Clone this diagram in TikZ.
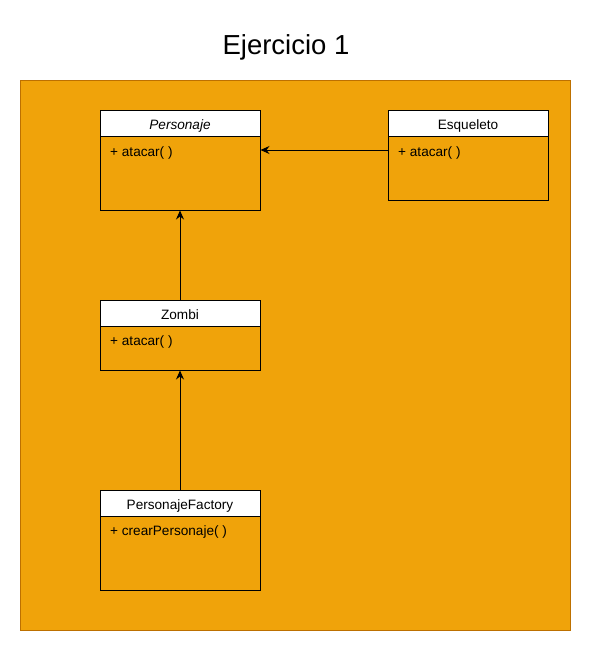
\documentclass[tikz,border=0pt]{standalone}
\usepackage{fontspec}
\setmainfont{Liberation Sans}
\usetikzlibrary{arrows.meta}
\definecolor{orfill}{HTML}{F0A30A}
\definecolor{orline}{HTML}{BD7000}
\tikzset{
  hdr/.style={draw=black, fill=white, line width=1pt, minimum width=160pt, inner sep=0pt, text height=12.5pt, text depth=0pt, font=\fontsize{13.6pt}{16pt}\selectfont},
  body/.style={draw=black, line width=1pt, minimum width=160pt, inner sep=0pt},
  memb/.style={anchor=west, inner sep=0pt, font=\fontsize{13.6pt}{16pt}\selectfont},
  inh/.style={-{Stealth[length=9pt,width=8pt,inset=3pt]}, line width=1pt}
}
\begin{document}
\begin{tikzpicture}[x=1pt,y=-1pt]
\useasboundingbox (0,0) rectangle (591,651);
\node[font=\fontsize{27.5pt}{32pt}\selectfont] (title) at (286,47) {Ejercicio 1};
\node[draw=orline, fill=orfill, line width=1pt, minimum width=550pt, minimum height=550pt, inner sep=0pt] (bg) at (295,355) {};
% Personaje
\node[body, minimum height=74pt] (pb) at (180,173) {};
\node[hdr, minimum height=26pt] (ph) at (180,123) {\itshape Personaje};
\node[memb] (pm) at (110,153) {+ atacar( )};
% Esqueleto
\node[body, minimum height=64pt] (eb) at (468,168) {};
\node[hdr, minimum height=26pt] (eh) at (468,123) {Esqueleto};
\node[memb] (em) at (398,153) {+ atacar( )};
% Zombi
\node[body, minimum height=44pt] (zb) at (180,348) {};
\node[hdr, minimum height=26pt] (zh) at (180,313) {Zombi};
\node[memb] (zm) at (110,342) {+ atacar( )};
% PersonajeFactory
\node[body, minimum height=74pt] (fb) at (180,553) {};
\node[hdr, minimum height=26pt] (fh) at (180,503) {PersonajeFactory};
\node[memb] (fm) at (110,532) {+ crearPersonaje( )};
% connectors
\draw[inh] (eb.west |- 0,150) -- (pb.east |- 0,150);
\draw[inh] (zh.north) -- (pb.south);
\draw[inh] (fh.north) -- (zb.south);
\end{tikzpicture}
\end{document}
